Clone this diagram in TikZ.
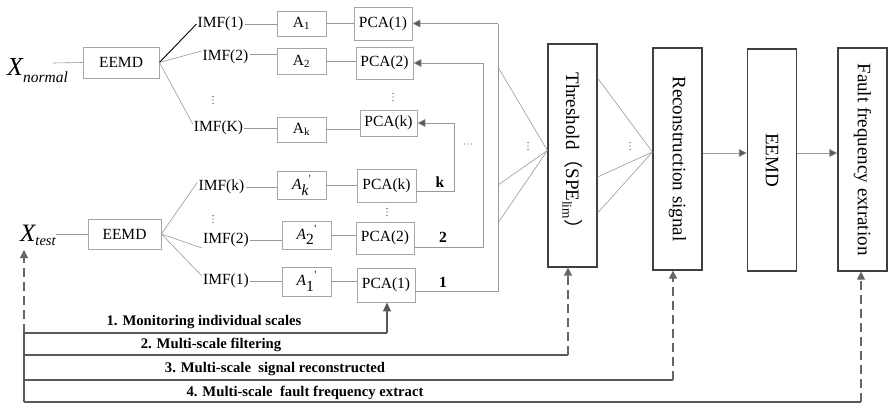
\documentclass[tikz,border=0pt]{standalone}
\usepackage{fontspec}
\setmainfont{Liberation Serif}
\newfontfamily\cjkfont{Noto Sans CJK SC}
\usetikzlibrary{arrows.meta,calc}

\begin{document}
\begin{tikzpicture}[x=1pt,y=-1pt,
  lbox/.style={draw=black!35, line width=0.8pt, inner sep=0pt, font=\fontsize{15.5}{18}\selectfont},
  rbox/.style={draw=black!75, line width=1.2pt, inner sep=0pt, minimum width=49pt},
  rtext/.style={rotate=-90, inner sep=0pt, font=\fontsize{19}{22}\selectfont},
  txt/.style={inner sep=1pt, font=\fontsize{15.5}{18}\selectfont},
  thin/.style={draw=black!40, line width=0.6pt},
  arr/.style={-{Triangle[width=8pt,length=8pt,fill=black!65]}, draw=black!40, line width=0.6pt},
  dasharr/.style={-{Triangle[width=8pt,length=8pt]}, draw=black!60, line width=1.2pt, dash pattern=on 9pt off 5pt},
  bar/.style={draw=black!65, line width=1.3pt},
  lab/.style={inner sep=0pt, font=\bfseries\fontsize{14.7}{17}\selectfont},
  num/.style={inner sep=0pt, font=\bfseries\fontsize{15.5}{18}\selectfont},
  vdts/.pic={\foreach \k in {-3.4,0,3.4} \fill[black!75] (0,\k) circle (0.65pt);},
  hdts/.pic={\foreach \k in {-3.2,0,3.2} \fill[black!60] (\k,0) circle (0.6pt);}]
\useasboundingbox (0,0) rectangle (889,405);

% ---------- normal branch ----------
\node[inner sep=0pt, anchor=base west] (xn) at (7,75)
  {\fontsize{26}{26}\selectfont\itshape X\raisebox{-7pt}{\fontsize{15.5}{16}\selectfont normal}};
\coordinate (xnend) at (53,63);
\node[lbox, minimum width=76pt, minimum height=31pt] (e1) at (121,62.5) {EEMD};

\node[txt] (imf1) at (220.5,24) {IMF(1)};
\node[txt] (imf2) at (225.5,57) {IMF(2)};
\pic at (213,100) {vdts};
\node[txt] (imfK) at (218.5,128) {IMF(K)};

\node[lbox, minimum width=49pt, minimum height=25pt] (a1) at (301.5,23.5) {A\textsubscript{1}};
\node[lbox, minimum width=49pt, minimum height=26pt] (a2) at (301.5,61) {A\textsubscript{2}};
\node[lbox, minimum width=49pt, minimum height=25pt] (ak) at (301.5,129.5) {A\textsubscript{k}};

\node[lbox, minimum width=58pt, minimum height=33pt] (p1) at (383,23.5) {PCA(1)};
\node[lbox, minimum width=57pt, minimum height=32pt] (p2) at (384.5,63) {PCA(2)};
\pic at (393,97) {vdts};
\node[lbox, minimum width=57pt, minimum height=26pt] (pk) at (388.5,123) {PCA(k)};

\draw[thin] (xnend) -- (e1.west);
\draw[black, line width=0.9pt] (e1.east) -- (imf1.west);
\draw[thin] (e1.east) -- ([yshift=6pt]imf2.west);
\draw[thin] (e1.east) -- ([yshift=4pt]imfK.west);
\draw[thin] (imf1.east) -- (imf1.east -| a1.west);
\draw[thin] ([yshift=3pt]imf2.east) -- ([yshift=3pt]imf2.east -| a2.west);
\draw[thin] (imfK.east) -- (imfK.east -| ak.west);
\draw[thin] (a1.east) -- (a1.east -| p1.west);
\draw[thin] (a2.east) -- (a2.east -| p2.west);
\draw[thin] (ak.east) -- (ak.east -| pk.west);

% ---------- test branch ----------
\node[inner sep=0pt, anchor=base west] (xt) at (20,241)
  {\fontsize{25}{25}\selectfont\itshape X\raisebox{-4pt}{\fontsize{14.5}{15}\selectfont test}};
\node[lbox, minimum width=73pt, minimum height=30pt] (e2) at (124.5,234) {EEMD};

\node[txt] (timfk) at (221.5,187) {IMF(k)};
\pic at (213,219) {vdts};
\node[txt] (timf2) at (226,240) {IMF(2)};
\node[txt] (timf1) at (226,281) {IMF(1)};

\node[lbox, minimum width=49pt, minimum height=28pt] (tak) at (301.5,185) {\textit{A}$_{\textit{k}}$\raisebox{7pt}{\fontsize{11}{11}\selectfont\textquotesingle}};
\node[lbox, minimum width=49pt, minimum height=28pt] (ta2) at (306.5,235) {\textit{A}$_{\textrm{2}}$\raisebox{7pt}{\fontsize{11}{11}\selectfont\textquotesingle}};
\node[lbox, minimum width=49pt, minimum height=29pt] (ta1) at (306.5,281.5) {\textit{A}$_{\textrm{1}}$\raisebox{7pt}{\fontsize{11}{11}\selectfont\textquotesingle}};

\node[lbox, minimum width=59pt, minimum height=33pt] (tpk) at (386.5,185.5) {PCA(k)};
\pic at (387,212) {vdts};
\node[lbox, minimum width=58pt, minimum height=32pt] (tp2) at (385,238) {PCA(2)};
\node[lbox, minimum width=58pt, minimum height=34pt] (tp1) at (386,285) {PCA(1)};

\draw[thin] (e2.west -| xt.east) -- (e2.west);
\draw[thin] (e2.east) -- ([yshift=5pt]timfk.west);
\draw[thin] (e2.east) -- ([yshift=-8pt]timf2.west);
\draw[thin] (e2.east) -- ([yshift=5pt]timf1.west);
\draw[thin] (timfk.east) -- (timfk.east -| tak.west);
\draw[thin] (timf2.east) -- (timf2.east -| ta2.west);
\draw[thin] (timf1.east) -- (timf1.east -| ta1.west);
\draw[thin] (tak.east) -- (tak.east -| tpk.west);
\draw[thin] (ta2.east) -- (ta2.east -| tp2.west);
\draw[thin] (ta1.east) -- (ta1.east -| tp1.west);

% ---------- feedback loops into the normal PCA models ----------
\coordinate (vk) at (454,0);
\coordinate (v2) at (483,0);
\coordinate (v1) at (498,0);
\draw[thin] ([yshift=-6pt]tpk.east) -- ([yshift=-6pt]tpk.east -| vk) -- (pk.east -| vk);
\draw[arr] (pk.east -| vk) -- (pk.east);
\draw[thin] ([yshift=-9pt]tp2.east) -- ([yshift=-9pt]tp2.east -| v2) -- (p2.east -| v2);
\draw[arr] (p2.east -| v2) -- (p2.east);
\draw[thin] ([yshift=-6pt]tp1.east) -- ([yshift=-6pt]tp1.east -| v1) -- (p1.east -| v1);
\draw[arr] (p1.east -| v1) -- (p1.east);
\node[num] (nk) at (440,182) {k};
\node[num] (n2) at (443,237) {2};
\node[num] (n1) at (443,282) {1};
\pic at (468,144) {hdts};

% ---------- right-hand processing chain ----------
\node[rbox, minimum height=223pt] (thr) at (572.5,155.5) {};
\node[rtext] (thrt) at (thr) {Threshold{\cjkfont （}SPE\textsubscript{lim}{\cjkfont ）}};
\node[rbox, minimum height=222pt] (rec) at (677.5,159) {};
\node[rtext] (rect) at (rec) {Reconstruction signal};
\node[rbox, minimum height=222pt] (e3) at (772,160) {};
\node[rtext] (e3t) at (e3) {EEMD};
\node[rbox, minimum height=223pt] (flt) at (862.5,159.5) {};
\node[rtext] (fltt) at (flt) {Fault frequency extration};

\coordinate (s1) at (498,67);
\coordinate (s2) at (498,185);
\coordinate (s3) at (498,223);
\draw[thin] (s1) -- ([yshift=5pt]thr.west);
\draw[thin] (s2) -- ([yshift=5pt]thr.west);
\draw[thin] (s3) -- ([yshift=5pt]thr.west);
\pic at (528,146) {vdts};

\coordinate (r1) at (thr.east |- 0,78);
\coordinate (r2) at (thr.east |- 0,177);
\coordinate (r3) at (thr.east |- 0,213);
\draw[thin] (r1) -- ([yshift=7pt]rec.west);
\draw[thin] (r2) -- ([yshift=7pt]rec.west);
\draw[thin] (r3) -- ([yshift=7pt]rec.west);
\pic at (630,146) {vdts};

\draw[arr] ([yshift=6pt]rec.east) -- ([yshift=6pt]rec.east -| e3.west);
\draw[arr] ([yshift=7pt]e3.east) -- ([yshift=7pt]e3.east -| flt.west);

% ---------- scheme paths along the bottom ----------
\coordinate (c0) at (24,333);
\coordinate (c4) at (24,402);
\coordinate (xtin) at (24,250);
\coordinate (b1) at (387,333);
\coordinate (b2) at (568,355);
\coordinate (b3) at (673,380);
\coordinate (b4) at (861,402);

\draw[dasharr] (c0) -- (xtin);
\draw[bar] (c4) -- (c0) -- (b1);
\draw[bar, -{Triangle[width=8pt,length=9pt]}] (b1) -- (b1 |- tp1.south);
\draw[bar] (c0 |- b2) -- (b2);
\draw[dasharr] (b2) -- (b2 |- thr.south);
\draw[bar] (c0 |- b3) -- (b3);
\draw[dasharr] (b3) -- (b3 |- rec.south);
\draw[bar] (c4) -- (b4);
\draw[dasharr] (b4) -- (b4 |- flt.south);

\node[lab] (l1) at (204,322) {1. Monitoring individual scales};
\node[lab] (l2) at (211,345) {2. Multi-scale filtering};
\node[lab] (l3) at (275,369) {3. Multi-scale\ \ signal reconstructed};
\node[lab] (l4) at (305,393) {4. Multi-scale\ \ fault frequency extract};
\end{tikzpicture}
\end{document}
